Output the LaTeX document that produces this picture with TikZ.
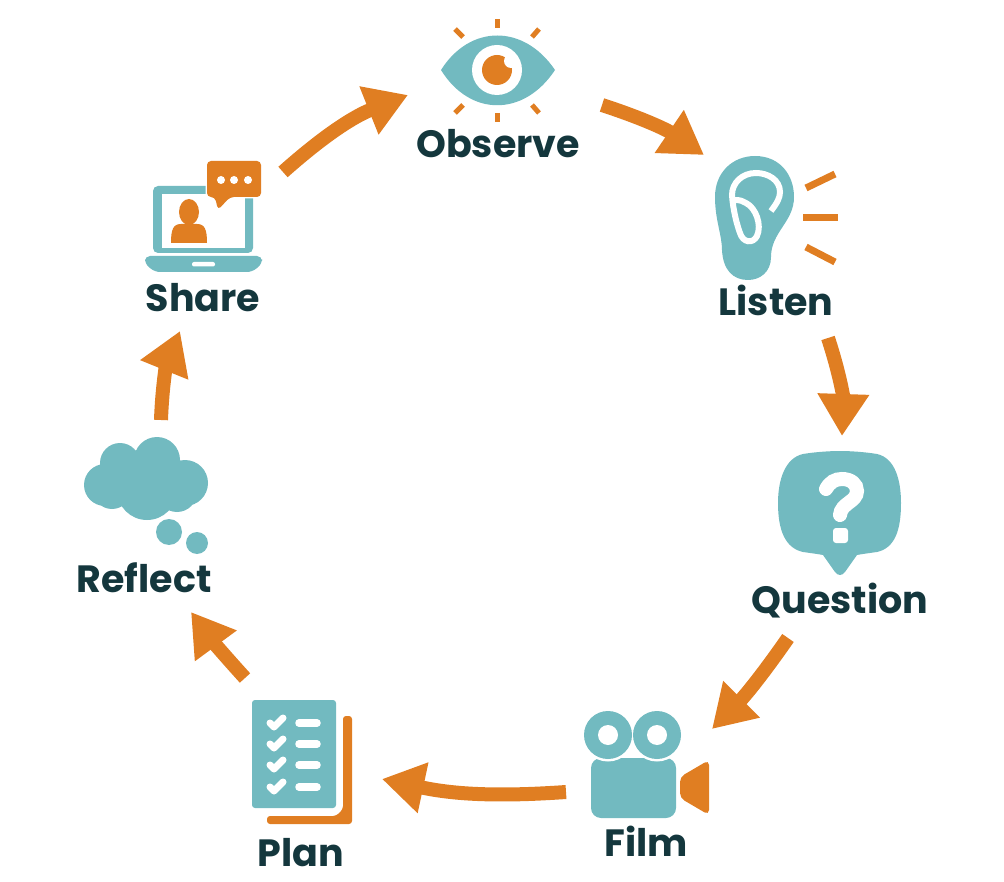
\documentclass[tikz,border=0pt]{standalone}
\usepackage{fontspec}
\setmainfont{Poppins}
\usetikzlibrary{arrows.meta}
\definecolor{tealc}{HTML}{72BAC0}
\definecolor{orangec}{HTML}{E07E22}
\definecolor{darkc}{HTML}{14373D}
\tikzset{
  cyc/.style={-{Triangle[length=42pt,width=49pt]},line width=14pt,orangec},
  lbl/.style={font=\bfseries\fontsize{38}{38}\selectfont,text=darkc,anchor=base,inner sep=0pt},
  ray/.style={orangec,line width=5pt},
  earray/.style={orangec,line width=7pt},
  wline/.style={white,line width=7.5pt,line cap=round},
  wcheck/.style={white,line width=7pt,line cap=round,line join=round},
}
\begin{document}
\begin{tikzpicture}[x=1pt,y=-1pt]
  \useasboundingbox (0,0) rectangle (1004,882);
  % ---- labels ----
  \node[lbl] (observe) at (498,158) {Observe};
  \node[lbl] (listen) at (776,316) {Listen};
  \node[lbl] (question) at (840,613) {Question};
  \node[lbl] (film) at (646,856) {Film};
  \node[lbl] (plan) at (301,866) {Plan};
  \node[lbl] (reflect) at (144,592) {Reflect};
  \node[lbl] (share) at (203,312) {Share};
  % ---- arrow ends ----
  \coordinate (a1) at (283,172); \coordinate (b1) at (408,95);
  \coordinate (a2) at (602,105); \coordinate (b2) at (704,155);
  \coordinate (a3) at (828,338); \coordinate (b3) at (842,436);
  \coordinate (a4) at (788,638); \coordinate (b4) at (712,729);
  \coordinate (a5) at (566,792); \coordinate (b5) at (382,779);
  \coordinate (a6) at (245,678); \coordinate (b6) at (191,612);
  \coordinate (a7) at (161,420); \coordinate (b7) at (180,331);
  \draw[cyc] (a1) to[bend left=10] (b1);
  \draw[cyc] (a2) to[bend left=8] (b2);
  \draw[cyc] (a3) to[bend left=10] (b3);
  \draw[cyc] (a4) to[bend left=5] (b4);
  \draw[cyc] (a5) to[bend left=8] (b5);
  \draw[cyc] (a6) to[bend left=3] (b6);
  \draw[cyc] (a7) to[bend left=10] (b7);
  % ---- eye ----
  \fill[tealc] (441,70) .. controls (470,24) and (524,24) .. (555,70)
    .. controls (524,117) and (470,117) .. cycle;
  \fill[white] (497,70) circle (25);
  \fill[orangec] (497,70) circle (15);
  \fill[white] (511,61) circle (7);
  \foreach \xa/\ya/\xb/\yb in {497/19/497/28,497/113/497/122,455/29/463/37,539/29/532/37,455/113/463/105,539/113/532/105}
    \draw[ray] (\xa,\ya)--(\xb,\yb);
  % ---- ear ----
  \fill[tealc] (755,156) .. controls (780,156) and (794,175) .. (794,197)
    .. controls (794,222) and (771,232) .. (771,257)
    .. controls (771,272) and (760,280) .. (748,280)
    .. controls (733,280) and (723,270) .. (722,250)
    .. controls (722,235) and (715,220) .. (715,197)
    .. controls (715,172) and (733,156) .. cycle;
  \draw[white,line width=6pt] (771,211) .. controls (777,203) and (780,198) .. (780,192)
    .. controls (780,180) and (768,173) .. (756,173)
    .. controls (742,173) and (732,183) .. (732,195)
    .. controls (733,210) and (737,225) .. (740,233)
    .. controls (743,243) and (753,244) .. (757,236)
    .. controls (762,225) and (756,208) .. (746,203)
    .. controls (743,201) and (740,200) .. (735,200);
  \draw[earray] (806,188)--(835,174);
  \draw[earray] (803,218)--(838,218);
  \draw[earray] (806,247)--(835,262);
  % ---- question bubble ----
  \fill[tealc] (840,451) .. controls (850,451) and (865,452) .. (877,454)
    .. controls (895,458) and (901,480) .. (901,503)
    .. controls (901,530) and (895,548) .. (877,552)
    .. controls (870,553) and (862,554) .. (857,555)
    -- (845,572) .. controls (842,576) and (838,576) .. (835,572)
    -- (823,555) .. controls (818,554) and (810,553) .. (803,552)
    .. controls (785,548) and (778,530) .. (778,503)
    .. controls (778,480) and (785,458) .. (803,454)
    .. controls (815,452) and (830,451) .. cycle;
  \draw[white,line width=14pt,line cap=round] (826,489) .. controls (830,482) and (835,479) .. (842,479)
    .. controls (851,479) and (857,484) .. (857,491)
    .. controls (857,502) and (841,503) .. (840,515);
  \fill[white,rounded corners=3pt] (833,528) rectangle (848,543);
  % ---- film camera ----
  \fill[tealc,rounded corners=10pt] (591,758) rectangle (676,818);
  \fill[white] (608,735) circle (26.5) (657,735) circle (26.5);
  \fill[tealc] (608,735) circle (24) (657,735) circle (24);
  \fill[white] (608,735) circle (10) (657,735) circle (10);
  \fill[orangec,rounded corners=5pt] (680,777) -- (709,760) -- (709,815) -- (680,798) -- cycle;
  % ---- plan ----
  \fill[orangec,rounded corners=3pt] (343,716) -- (352,716) -- (352,824) -- (267,824) -- (267,816) -- (336,816) -- (343,809) -- cycle;
  \fill[tealc,rounded corners=3pt] (252,700) rectangle (336,808);
  \foreach \yy in {723,744,765,787}{
    \draw[wline] (299,\yy)--(317,\yy);
    \draw[wcheck] (270,\yy) -- ++(4,4) -- ++(9,-9);
  }
  % ---- cloud ----
  \fill[tealc] (105,485) circle (21) (120,463) circle (20) (157,460) circle (23)
    (185,483) circle (23) (147,490) circle (30) (177,492) circle (20) (112,490) circle (19)
    (140,475) circle (25);
  \fill[tealc] (169,532) circle (13) (197,543) circle (11);
  % ---- laptop ----
  \fill[tealc,rounded corners=5pt] (153,186) -- (253,186) -- (253,253) -- (153,253) -- cycle;
  \fill[white] (162,194) rectangle (245,248);
  \fill[tealc,rounded corners=5pt] (145,256) -- (262,256) -- (262,264) -- (252,272) -- (155,272) -- (145,264) -- cycle;
  \fill[white,rounded corners=2pt] (192,262) rectangle (215,266.5);
  \fill[orangec] (189,212) ellipse (10 and 13);
  \fill[orangec] (171,243) .. controls (171,230) and (173,224) .. (181,224) -- (197,224)
    .. controls (205,224) and (207,230) .. (207,243) -- cycle;
  \draw[white,line width=3pt,rounded corners=4pt] (207,161) -- (261,161) -- (261,197) -- (230,197) -- (218,210) -- (215,197) -- (207,197) -- cycle;
  \fill[orangec,rounded corners=4pt] (207,161) -- (261,161) -- (261,197) -- (230,197) -- (218,210) -- (215,197) -- (207,197) -- cycle;
  \fill[white] (221,180) circle (4) (234,180) circle (4) (248,180) circle (4);
\end{tikzpicture}
\end{document}
